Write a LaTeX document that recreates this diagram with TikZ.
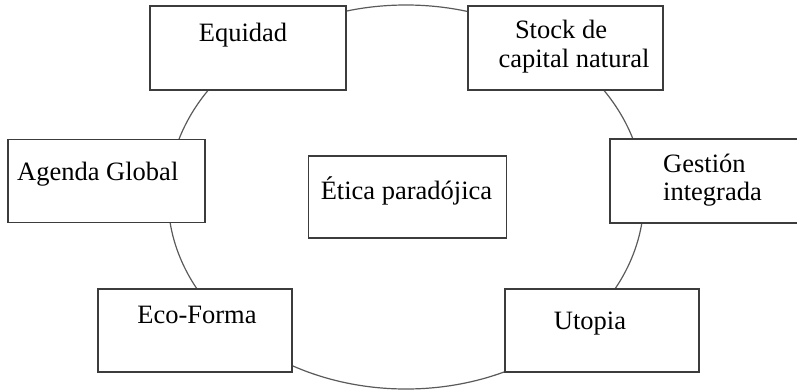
\documentclass[tikz,border=0pt]{standalone}
\usepackage{fontspec}
\setmainfont{Liberation Serif}
\newfontfamily\tnrfont{Liberation Serif}
\definecolor{boxline}{HTML}{3C3C3C}
\definecolor{ringline}{HTML}{5A5A5A}
\begin{document}
\begin{tikzpicture}[x=1pt,y=-1pt,
  box/.style={draw=boxline, line width=1.5pt, fill=white, rectangle, inner sep=0pt},
  lbl/.style={font=\tnrfont\fontsize{26.5}{30}\selectfont, text=black, inner sep=0pt},
  ring/.style={draw=ringline, line width=1.2pt}]
\useasboundingbox (0,0) rectangle (797,391);
% ring
\draw[ring] (406,197) ellipse [x radius=238, y radius=192];
% boxes
\node[box, minimum width=196pt, minimum height=84pt] (equidad) at (248,48) {};
\node[box, minimum width=195pt, minimum height=84pt] (stock) at (565.5,48) {};
\node[box, minimum width=197pt, minimum height=83pt] (agenda) at (106.5,181) {};
\node[box, minimum width=198pt, minimum height=82pt] (etica) at (407.5,197) {};
\node[box, minimum width=196pt, minimum height=84pt] (gestion) at (708,181) {};
\node[box, minimum width=194pt, minimum height=83pt] (eco) at (195,330.5) {};
\node[box, minimum width=194pt, minimum height=83pt] (utopia) at (602,330.5) {};
% labels
\node[lbl, anchor=base] (t-equidad) at (243,41) {Equidad};
\node[lbl, anchor=base] (t-stock1) at (561,38) {Stock de};
\node[lbl, anchor=base] (t-stock2) at (574,67) {capital natural};
\node[lbl, anchor=base west] (t-agenda) at (17,180) {Agenda Global};
\node[lbl, anchor=base] (t-etica) at (406.5,199) {Ética paradójica};
\node[lbl, anchor=base west] (t-gestion1) at (663,172) {Gestión};
\node[lbl, anchor=base west] (t-gestion2) at (663,200) {integrada};
\node[lbl, anchor=base] (t-eco) at (197,323) {Eco-Forma};
\node[lbl, anchor=base] (t-utopia) at (590,329) {Utopia};
\end{tikzpicture}
\end{document}
